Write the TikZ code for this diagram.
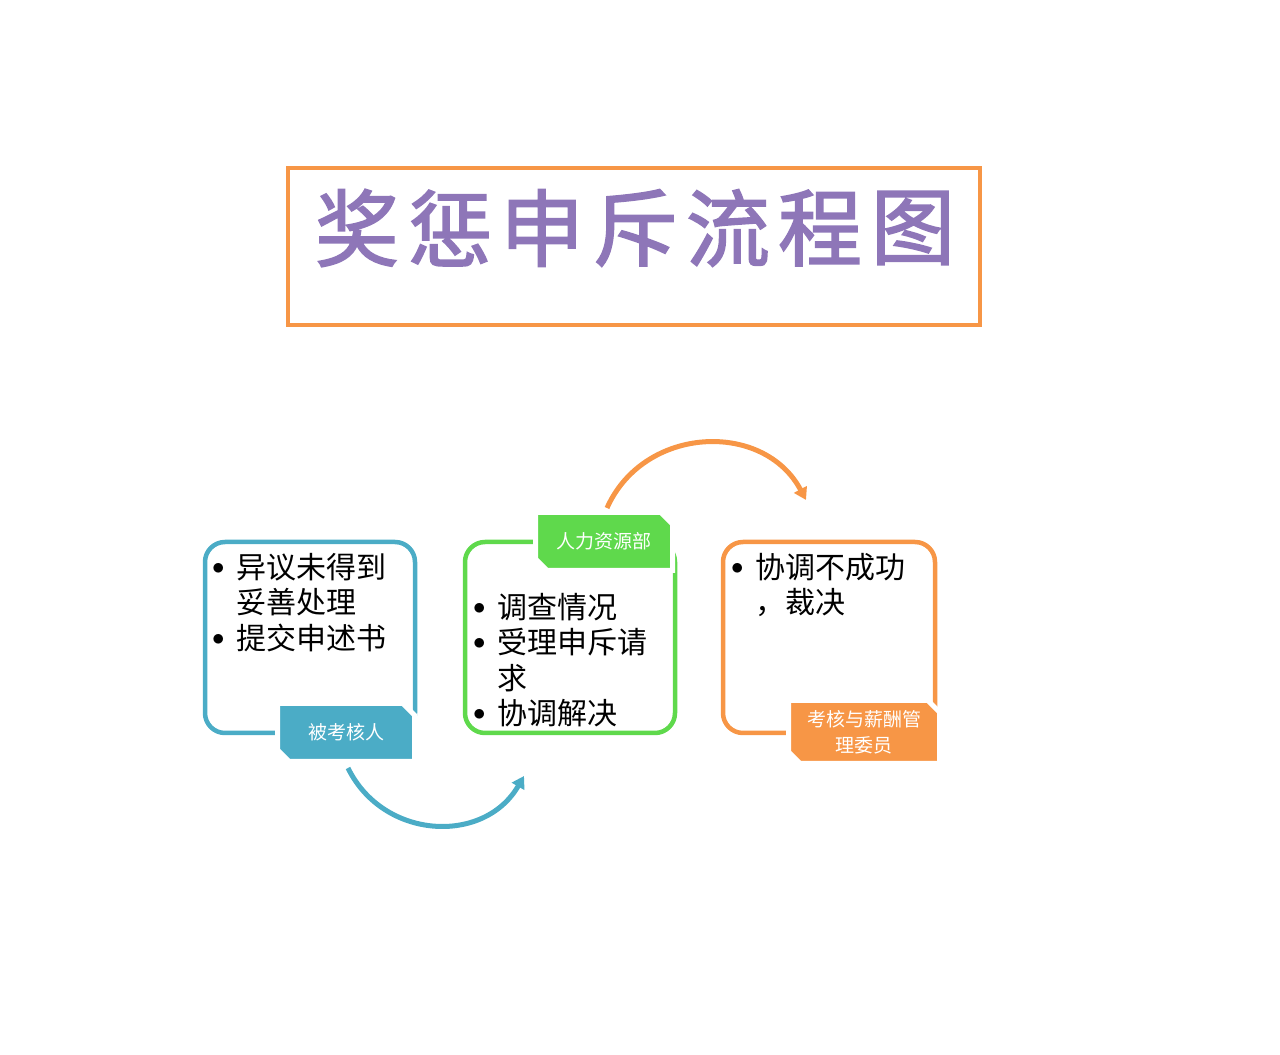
\documentclass[tikz,border=0pt]{standalone}
\usepackage{fontspec}
\setmainfont{Noto Sans CJK SC}
\newfontfamily\titlefont[FakeBold=2]{Noto Sans CJK SC}
\usetikzlibrary{shapes.misc,arrows.meta}

\definecolor{kblue}{HTML}{4BACC6}
\definecolor{kgreen}{HTML}{5FD94C}
\definecolor{korange}{HTML}{F79646}
\definecolor{kpurple}{HTML}{8E76B8}

\newcommand{\itm}{\makebox[24pt][l]{\raisebox{4pt}{$\bullet$}}}

\begin{document}
\begin{tikzpicture}[
  x=1pt, y=1pt,
  panel/.style={draw, line width=4.5pt, rounded corners=20pt, minimum width=210pt, minimum height=191pt, inner sep=0pt},
  tab/.style={chamfered rectangle, chamfered rectangle corners={north east,south west}, chamfered rectangle xsep=8pt, draw=white, line width=5pt, text=white, inner sep=0pt, align=center, font=\fontsize{19}{26}\selectfont},
  items/.style={anchor=north west, inner sep=0pt, align=left, font=\fontsize{30}{35.5}\selectfont},
  tchar/.style={text=kpurple, inner sep=0pt, font=\titlefont\fontsize{84}{90}\selectfont},
  flow/.style={line width=5pt, -{Triangle[length=12pt,width=14pt]}, looseness=1.16},
]

\useasboundingbox (0,0) rectangle (1280,1055);

\node [draw=korange, line width=4pt, minimum width=692pt, minimum height=157pt] (titlebox) at (634,808.5) {};
\node [tchar] (t1) at (357,827) {奖};
\node [tchar] (t2) at (450,827) {惩};
\node [tchar] (t3) at (542,827) {申};
\node [tchar] (t4) at (635,827) {斥};
\node [tchar] (t5) at (728,827) {流};
\node [tchar] (t6) at (820,827) {程};
\node [tchar] (t7) at (913,827) {图};

\node [panel, draw=kblue] (kh) at (310,417.5) {};
\node [panel, draw=kgreen] (hr) at (570,417.5) {};
\node [panel, draw=korange, minimum width=212pt] (wy) at (829,417.5) {};

\node [tab, fill=kblue, minimum width=137pt, minimum height=58pt] (khtab) at (346,322.5) {被考核人};
\node [tab, fill=kgreen, minimum width=137pt, minimum height=58pt] (hrtab) at (604,513.5) {人力资源部};
\node [tab, fill=korange, minimum width=151pt, minimum height=63pt] (wytab) at (864,323) {考核与薪酬管\\理委员};

\node [items] (khtxt) at (212,502) {\itm 异议未得到\\\hspace*{24pt}妥善处理\\\itm 提交申述书};
\node [items] (hrtxt) at (473,462) {\itm 调查情况\\\itm 受理申斥请\\\hspace*{24pt}求\\\itm 协调解决};
\node [items] (wytxt) at (731,502) {\itm 协调不成功\\\hspace*{24pt}，裁决};

\coordinate (b1) at (348,287);
\coordinate (b2) at (524,279);
\coordinate (o1) at (607,547);
\coordinate (o2) at (806,555);

\draw [flow, kblue] (b1) to [out=-64, in=240] (b2);
\draw [flow, korange] (o1) to [out=66, in=118] (o2);

\end{tikzpicture}
\end{document}
